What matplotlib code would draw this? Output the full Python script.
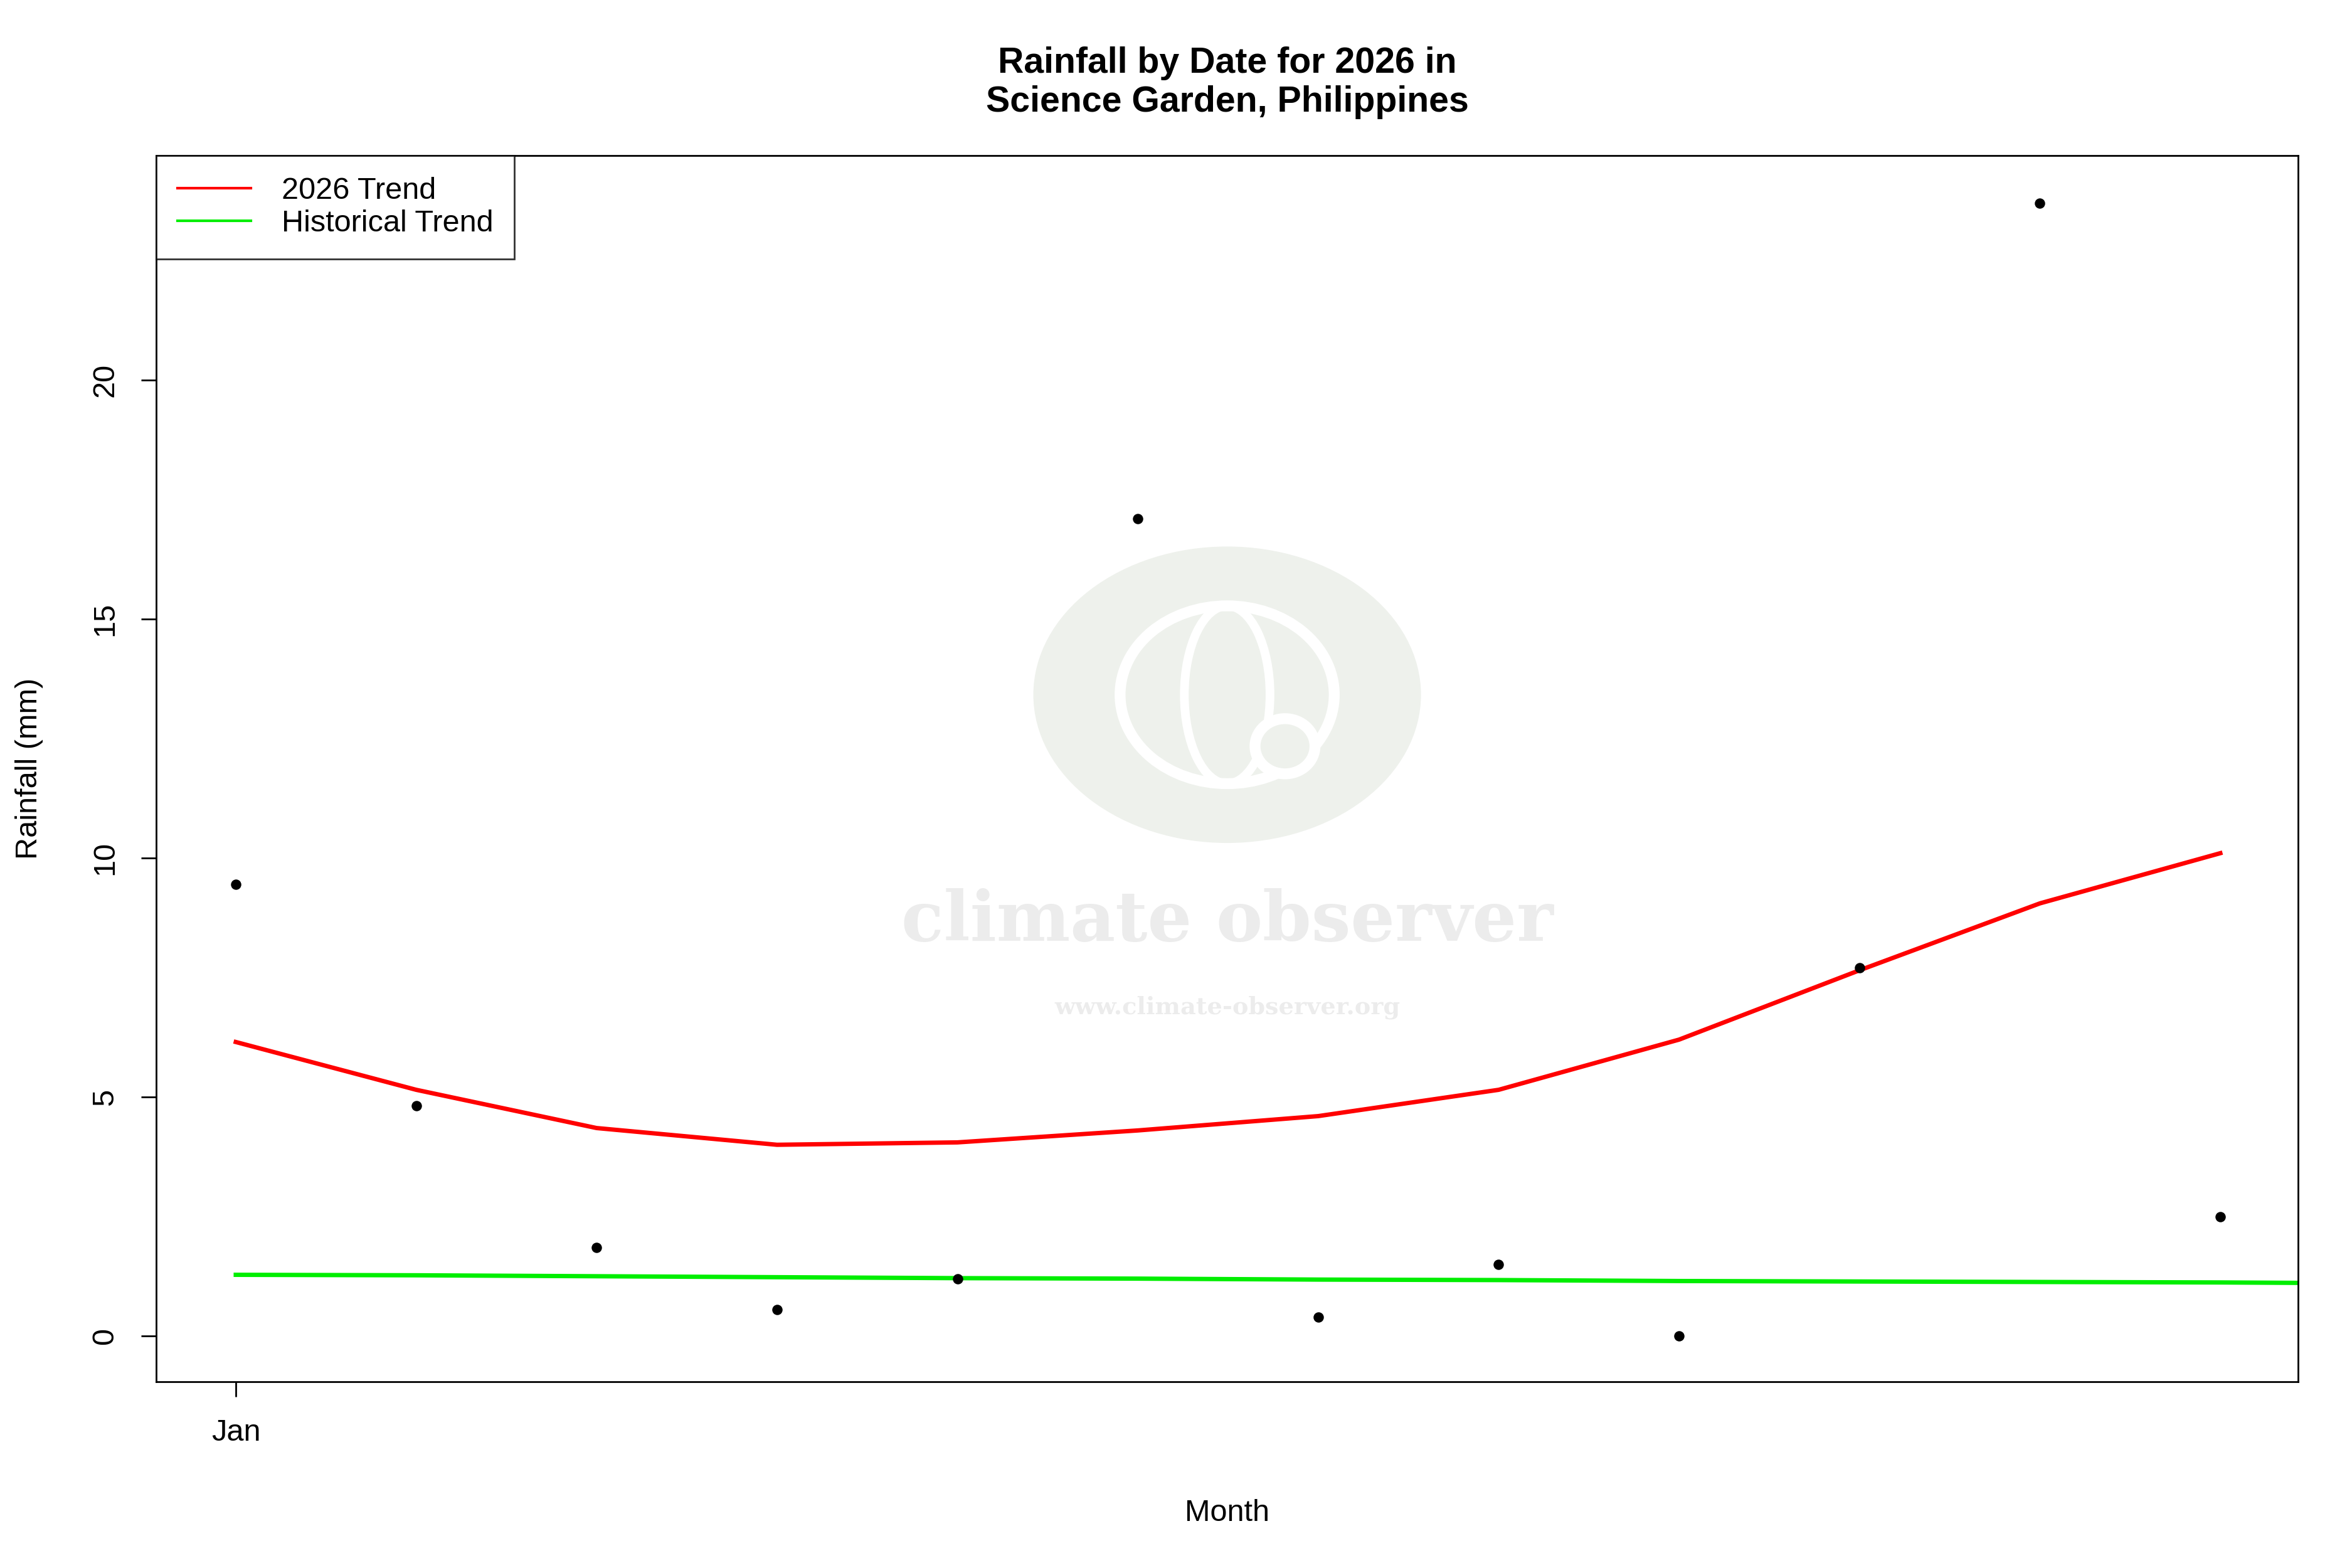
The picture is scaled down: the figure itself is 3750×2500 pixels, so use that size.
import matplotlib
matplotlib.use("Agg")
import matplotlib.pyplot as plt
from matplotlib.patches import Ellipse
import numpy as np

plt.rcParams['font.family'] = ['Liberation Sans', 'DejaVu Sans']

day = np.arange(12)
rain = [9.45, 4.82, 1.85, 0.55, 1.2, 17.1, 0.4, 1.5, 0.0, 7.7, 23.7, 2.5]
trend_2026 = [6.15, 5.15, 4.35, 4.0, 4.05, 4.3, 4.6, 5.15, 6.2, 7.65, 9.05, 10.1]
hist_x = np.arange(13)
hist_trend = [1.28, 1.27, 1.25, 1.23, 1.21, 1.20, 1.18, 1.17, 1.15, 1.14, 1.13, 1.12, 1.10]

fig = plt.figure(figsize=(15, 10), dpi=250)
ax = fig.add_axes([0.0665, 0.119, 0.9105, 0.782])

# faint watermark
ax.add_patch(Ellipse((0.5, 0.56), 0.18, 0.24, transform=ax.transAxes,
                     color='#eef1ec', zorder=0))
ax.add_patch(Ellipse((0.5, 0.56), 0.1, 0.145, transform=ax.transAxes,
                     fill=False, edgecolor='white', lw=5, zorder=0))
ax.add_patch(Ellipse((0.5, 0.56), 0.04, 0.145, transform=ax.transAxes,
                     fill=False, edgecolor='white', lw=4, zorder=0))
ax.add_patch(Ellipse((0.527, 0.518), 0.028, 0.045, transform=ax.transAxes,
                     facecolor='#eef1ec', edgecolor='white', lw=5, zorder=0))
ax.text(0.5, 0.375, 'climate observer', transform=ax.transAxes, ha='center',
        va='center', fontsize=32, fontweight='bold', color='#ececec',
        family='DejaVu Serif', zorder=0)
ax.text(0.5, 0.305, 'www.climate-observer.org', transform=ax.transAxes,
        ha='center', va='center', fontsize=11, fontweight='bold',
        color='#ececec', family='DejaVu Serif', zorder=0)

ax.plot(day, trend_2026, color='red', lw=2, label='2026 Trend')
ax.plot(hist_x, hist_trend, color='#00ee00', lw=2, label='Historical Trend')
ax.scatter(day, rain, s=14, color='black', zorder=3)

ax.set_xlim(-0.44, 11.43)
ax.set_ylim(-0.95, 24.7)
ax.set_xticks([0])
ax.set_xticklabels(['Jan'])
ax.set_yticks([0, 5, 10, 15, 20])
ax.tick_params(length=7, width=0.8)
ax.tick_params(axis='y', labelrotation=90, labelsize=14, pad=10)
ax.tick_params(axis='x', labelsize=14, pad=10)
for t in ax.get_yticklabels():
    t.set_va('center')
ax.set_xlabel('Month', fontsize=14, labelpad=24)
ax.set_ylabel('Rainfall (mm)', fontsize=14, labelpad=22)
ax.set_title('Rainfall by Date for 2026 in\nScience Garden, Philippines',
             fontsize=16.5, fontweight='bold', pad=20)

leg = ax.legend(loc='upper left', fontsize=14, fancybox=False,
                edgecolor='black', borderaxespad=0, handlelength=2.4,
                borderpad=0.7, labelspacing=0.15, handletextpad=1.0)
leg.get_frame().set_linewidth(0.8)
for h in leg.get_lines():
    h.set_linewidth(1.2)

fig.savefig('out.png')
